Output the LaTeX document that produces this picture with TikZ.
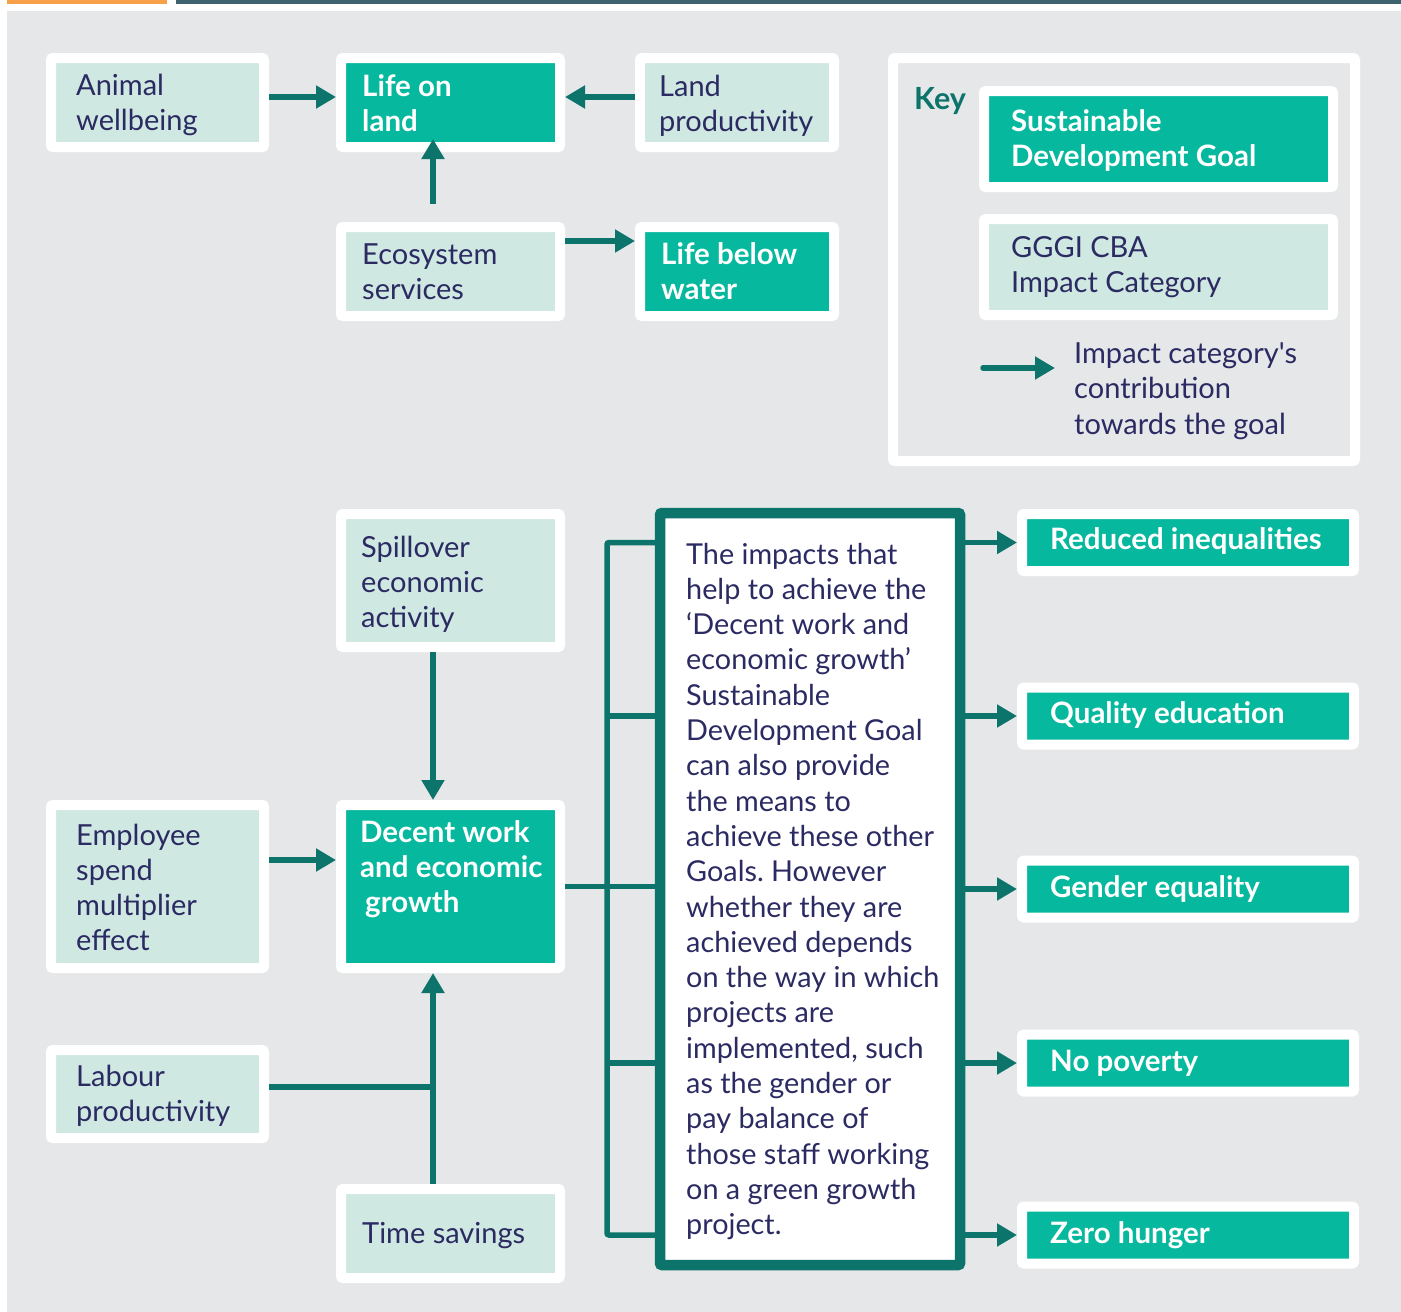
\documentclass[tikz,border=0pt]{standalone}
\usepackage{fontspec}
\setmainfont{Lato}[Ligatures=TeXOff]
\usetikzlibrary{arrows.meta,calc}
\definecolor{bg}{HTML}{E6E7E9}
\definecolor{mint}{HTML}{CFE8E1}
\definecolor{sdg}{HTML}{06B89D}
\definecolor{dteal}{HTML}{0D746B}
\definecolor{navy}{HTML}{2B2A62}
\definecolor{topor}{HTML}{F6A04A}
\definecolor{topsl}{HTML}{3E6370}
\frenchspacing
\newcommand{\lns}[1]{\begin{tabular}[t]{@{}l@{}}#1\end{tabular}}
\begin{document}
\begin{tikzpicture}[x=1pt,y=-1pt,
  ibox/.style={fill=mint, draw=white, line width=10pt, rounded corners=2pt, inner sep=0pt},
  gbox/.style={ibox, fill=sdg},
  itxt/.style={anchor=base west, inner sep=0pt, text=navy, font=\fontsize{29}{35.3}\selectfont},
  gtxt/.style={anchor=base west, inner sep=0pt, text=white, font=\bfseries\fontsize{29.5}{35.3}\selectfont},
  arr/.style={draw=dteal, line width=5.5pt, -{Triangle[length=20pt,width=22pt]}},
  lnk/.style={draw=dteal, line width=5.5pt}]
\useasboundingbox (0,0) rectangle (1401,1312);
\fill[white] (0,0) rectangle (1401,1312);
\fill[topor] (7,0) rectangle (167,3.5);
\fill[topsl] (176,0) rectangle (1401,3.5);
\fill[bg] (7,11) rectangle (1401,1312);

% top boxes
\node[ibox, minimum width=213pt, minimum height=89pt] (animal) at (157.5,102.5) {};
\node[gbox, minimum width=219pt, minimum height=89pt] (lifeland) at (450.5,102.5) {};
\node[ibox, minimum width=194pt, minimum height=89pt] (landprod) at (737,102.5) {};
\node[ibox, minimum width=219pt, minimum height=89pt] (eco) at (450.5,271.5) {};
\node[gbox, minimum width=194pt, minimum height=89pt] (lbw) at (737,271.5) {};

\node[itxt] (animalt) at (76,95) {\lns{Animal\\wellbeing}};
\node[gtxt] (lifelandt) at (362,96) {\lns{Life on\\land}};
\node[itxt] (landprodt) at (659,96) {\lns{Land\\productivity}};
\node[itxt] (ecot) at (362,264) {\lns{Ecosystem\\services}};
\node[gtxt] (lbwt) at (661,264) {\lns{Life below\\water}};

% key
\node[draw=white, fill=bg, line width=10pt, rounded corners=2pt, minimum width=462pt, minimum height=403pt, inner sep=0pt] (key) at (1124,259.5) {};
\node[anchor=base west, inner sep=0pt, text=dteal, font=\bfseries\fontsize{30.5}{35}\selectfont] (keyt) at (914,109) {Key};
\node[gbox, minimum width=349pt, minimum height=96pt] (ksdg) at (1158.5,139) {};
\node[ibox, minimum width=349pt, minimum height=96pt] (kcat) at (1158.5,267) {};
\node[gtxt] (ksdgt) at (1011,131) {\lns{Sustainable\\Development Goal}};
\node[itxt] (kcatt) at (1011,257) {\lns{GGGI CBA\\Impact Category}};
\coordinate (ka) at (983,368);
\coordinate (kb) at (1055,368);
\draw[arr, line cap=round] (ka) -- (kb);
\node[itxt, font=\fontsize{29}{35.5}\selectfont] (karrt) at (1074,363) {\lns{Impact category's\\contribution\\towards the goal}};

% bottom left boxes
\node[ibox, minimum width=219pt, minimum height=133pt] (spill) at (450.5,580.5) {};
\node[gbox, minimum width=219pt, minimum height=163pt] (decent) at (450.5,886.5) {};
\node[ibox, minimum width=213pt, minimum height=163pt] (employee) at (157.5,886.5) {};
\node[ibox, minimum width=213pt, minimum height=88pt] (labour) at (157.5,1094) {};
\node[ibox, minimum width=219pt, minimum height=89pt] (time) at (450.5,1233.5) {};

\node[itxt] (spillt) at (361,557) {\lns{Spillover\\economic\\activity}};
\node[gtxt] (decentt) at (360,842) {\lns{Decent work\\and economic\\\hspace{5pt}growth}};
\node[itxt] (employeet) at (76,845) {\lns{Employee\\spend\\multiplier\\effect}};
\node[itxt] (labourt) at (76,1086) {\lns{Labour\\productivity}};
\node[itxt] (timet) at (362,1243) {Time savings};

% central box
\node[draw=dteal, fill=white, line width=10.5pt, rounded corners=2pt, minimum width=300pt, minimum height=752pt, inner sep=0pt] (central) at (810,889) {};
\node[itxt, font=\fontsize{28.8}{35.3}\selectfont] (centralt) at (686,564) {\lns{The impacts that\\help to achieve the\\‘Decent work and\\economic growth’\\Sustainable\\Development Goal\\can also provide\\the means to\\achieve these other\\Goals. However\\whether they are\\achieved depends\\on the way in which\\projects are\\implemented, such\\as the gender or\\pay balance of\\those staff working\\on a green growth\\project.}};

% goal boxes
\node[gbox, minimum width=332pt, minimum height=57pt] (g1) at (1188,542.5) {};
\node[gbox, minimum width=332pt, minimum height=57pt] (g2) at (1188,716) {};
\node[gbox, minimum width=332pt, minimum height=57pt] (g3) at (1188,889) {};
\node[gbox, minimum width=332pt, minimum height=57pt] (g4) at (1188,1063) {};
\node[gbox, minimum width=332pt, minimum height=57pt] (g5) at (1188,1235) {};
\node[gtxt] (g1t) at (1050,549) {Reduced inequalities};
\node[gtxt] (g2t) at (1050,723) {Quality education};
\node[gtxt] (g3t) at (1050,897) {Gender equality};
\node[gtxt] (g4t) at (1050,1071) {No poverty};
\node[gtxt] (g5t) at (1050,1243) {Zero hunger};

% connectors top
\draw[arr] ([yshift=5.5pt]animal.east) -- ([yshift=5.5pt]lifeland.west);
\draw[arr] ([yshift=5.5pt]landprod.west) -- ([yshift=5.5pt]lifeland.east);
\draw[arr] ([xshift=-17.5pt,yshift=18pt]eco.north) -- ([xshift=-17.5pt,yshift=13pt]lifeland.south);
\draw[arr] ([yshift=30.5pt]eco.east) -- ([yshift=30.5pt]lbw.west);

% connectors bottom
\draw[arr] ([xshift=-17.5pt]spill.south) -- ([xshift=-17.5pt]decent.north);
\draw[arr] ([yshift=26.5pt]employee.east) -- ([yshift=26.5pt]decent.west);
\draw[arr] ([xshift=-17.5pt]time.north) -- ([xshift=-17.5pt]decent.south);
\coordinate (tl) at ([xshift=-17.5pt]time.north);
\coordinate (lab) at ([yshift=7pt]labour.east);
\draw[lnk] (lab) -- (tl |- lab);

\coordinate (brk) at (607,886);
\draw[lnk] (decent.east) -- (central.west |- decent.east);
\draw[lnk, rounded corners=2pt] (central.west |- g1.west) -- (brk |- g1.west) -- (brk |- g5.west) -- (central.west |- g5.west);
\draw[lnk] (brk |- g2.west) -- (central.west |- g2.west);
\draw[lnk] (brk |- g4.west) -- (central.west |- g4.west);
\foreach \g in {g1,g2,g3,g4,g5}
  \draw[arr] (central.east |- \g.west) -- (\g.west);
\end{tikzpicture}
\end{document}
